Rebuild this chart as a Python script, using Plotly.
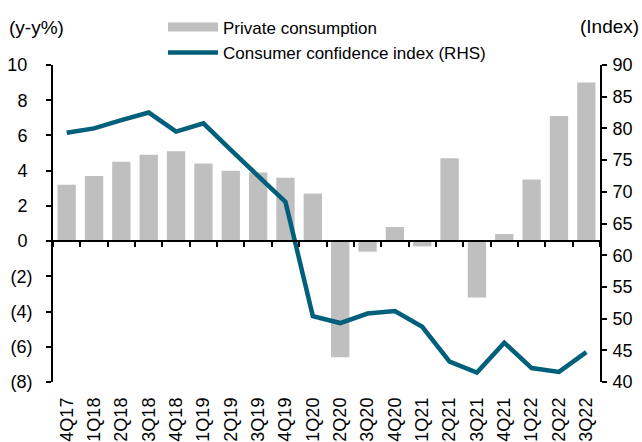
import plotly.graph_objects as go

quarters = ["4Q17", "1Q18", "2Q18", "3Q18", "4Q18", "1Q19", "2Q19", "3Q19", "4Q19", "1Q20",
            "2Q20", "3Q20", "4Q20", "1Q21", "2Q21", "3Q21", "4Q21", "1Q22", "2Q22", "3Q22"]
private_consumption = [3.2, 3.7, 4.5, 4.9, 5.1, 4.4, 4.0, 3.9, 3.6, 2.7,
                       -6.6, -0.6, 0.8, -0.3, 4.7, -3.2, 0.4, 3.5, 7.1, 9.0]
confidence_index = [79.3, 80.0, 81.3, 82.5, 79.5, 80.8, 76.6, 72.4, 68.4, 50.4,
                    49.3, 50.8, 51.2, 48.7, 43.2, 41.5, 46.2, 42.2, 41.6, 44.7]
left_ticks = [10, 8, 6, 4, 2, 0, -2, -4, -6, -8]
left_tick_text = ["10\u00a0", "8\u00a0", "6\u00a0", "4\u00a0", "2\u00a0", "0\u00a0", "(2)", "(4)", "(6)", "(8)"]
right_ticks = [90, 85, 80, 75, 70, 65, 60, 55, 50, 45, 40]

BAR_COLOR = "#bfbfbf"
LINE_COLOR = "#005f7a"
FONT = "Liberation Sans, Arial, sans-serif"

L, R, T, B = 53, 42, 65, 60
PW, PH = 642 - L - R, 442 - T - B


def px_x(x):
    return (x - L) / PW


def px_y(y):
    return 1 - (y - T) / PH


fig = go.Figure()
fig.add_trace(go.Bar(x=quarters, y=private_consumption, marker_color=BAR_COLOR,
                     marker_line_width=0, showlegend=False, xaxis="x", yaxis="y"))
# legend proxy for the bars (wide swatch as in the reference)
fig.add_trace(go.Scatter(x=[None], y=[None], mode="lines", name="Private consumption",
                         line=dict(color=BAR_COLOR, width=9), legend="legend",
                         xaxis="x2", yaxis="y2"))
fig.add_trace(go.Scatter(x=quarters, y=confidence_index, mode="lines",
                         name="Consumer confidence index (RHS)",
                         line=dict(color=LINE_COLOR, width=4.5), legend="legend2",
                         xaxis="x2", yaxis="y2"))

axis_common = dict(showgrid=False, zeroline=False, linecolor="black", linewidth=2,
                   tickcolor="black", tickwidth=2, automargin=False,
                   tickfont=dict(family=FONT, size=18, color="black"))

fig.update_layout(
    width=642, height=442,
    margin=dict(l=L, r=R, t=T, b=B, autoexpand=False),
    paper_bgcolor="white", plot_bgcolor="white",
    font=dict(family=FONT, color="black"),
    bargap=0.33,
    xaxis=dict(type="category", anchor="free", position=8 / 18, showline=True,
               ticks="outside", ticklen=5, tickson="boundaries", showticklabels=False,
               showgrid=False, zeroline=False, linecolor="black", linewidth=2,
               tickcolor="black", tickwidth=2, automargin=False),
    xaxis2=dict(type="category", overlaying="x", matches="x", anchor="y2", side="bottom",
                showline=False, ticks="", tickangle=-90, ticklabelstandoff=11,
                showgrid=False, zeroline=False, automargin=False,
                tickfont=dict(family=FONT, size=18, color="black")),
    yaxis=dict(range=[-8, 10], tickvals=left_ticks, ticktext=left_tick_text,
               showline=True, ticks="outside", ticklen=5, ticklabelstandoff=10,
               **axis_common),
    yaxis2=dict(range=[40, 90], tickvals=right_ticks, overlaying="y", side="right",
                showline=True, ticks="outside", ticklen=5, ticklabelstandoff=2,
                **axis_common),
    legend=dict(x=px_x(163), xanchor="left", y=px_y(27.5), yanchor="middle",
                bgcolor="rgba(0,0,0,0)", font=dict(family=FONT, size=17, color="black"),
                itemwidth=50),
    legend2=dict(x=px_x(163), xanchor="left", y=px_y(53), yanchor="middle",
                 bgcolor="rgba(0,0,0,0)", font=dict(family=FONT, size=17, color="black"),
                 itemwidth=50),
    annotations=[
        dict(text="(y-y%)", xref="paper", yref="paper", x=px_x(7),
             y=px_y(27), xanchor="left", yanchor="middle", showarrow=False,
             font=dict(family=FONT, size=19, color="black")),
        dict(text="(Index)", xref="paper", yref="paper", x=px_x(641),
             y=px_y(26), xanchor="right", yanchor="middle", showarrow=False,
             font=dict(family=FONT, size=19, color="black")),
    ],
)

fig.write_html("out.html",
               config={"displayModeBar": False},
               post_script="document.body.style.margin='0';document.body.style.overflow='hidden';")
